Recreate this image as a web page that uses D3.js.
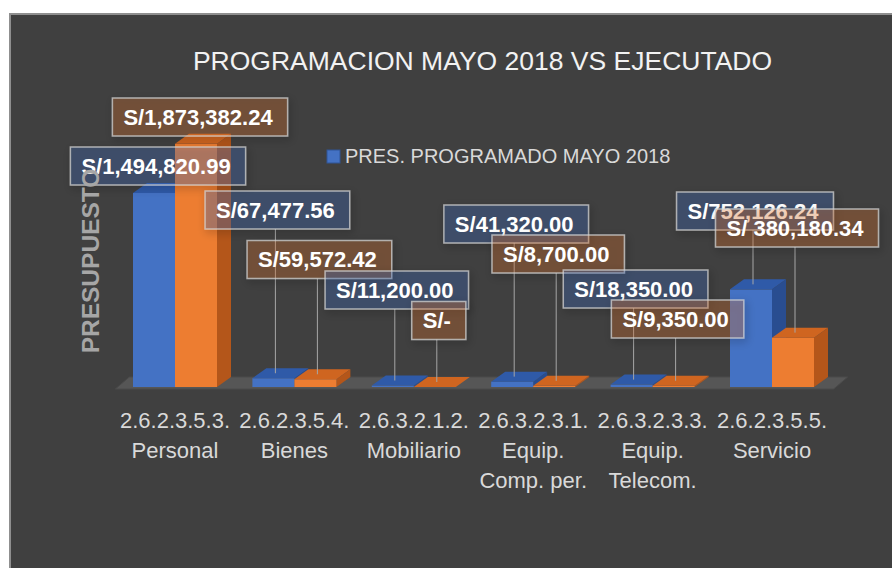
<!DOCTYPE html>
<html>
<head>
<meta charset="utf-8">
<script src="https://cdn.jsdelivr.net/npm/d3@7"></script>
<style>
    body { margin: 0; background: #ffffff; }
    svg { display: block; font-family: 'Liberation Sans', Arial, sans-serif; }
</style>
</head>
<body>
<svg id="chart" width="892" height="568"></svg>
<script>
// chart data
const categories = ['2.6.2.3.5.3. Personal', '2.6.2.3.5.4. Bienes', '2.6.3.2.1.2. Mobiliario',
    '2.6.3.2.3.1. Equip. Comp. per.', '2.6.3.2.3.3. Equip. Telecom.', '2.6.2.3.5.5. Servicio'];
const tickLabels = [
    ['2.6.2.3.5.3.', 'Personal'],
    ['2.6.2.3.5.4.', 'Bienes'],
    ['2.6.3.2.1.2.', 'Mobiliario'],
    ['2.6.3.2.3.1.', 'Equip.', 'Comp. per.'],
    ['2.6.3.2.3.3.', 'Equip.', 'Telecom.'],
    ['2.6.2.3.5.5.', 'Servicio']
];
const programado = [1494820.99, 67477.56, 11200.00, 41320.00, 18350.00, 752126.24];
const ejecutado = [1873382.24, 59572.42, 0, 8700.00, 9350.00, 380180.34];
const programadoLabels = ['S/1,494,820.99', 'S/67,477.56', 'S/11,200.00', 'S/41,320.00', 'S/18,350.00', 'S/752,126.24'];
const ejecutadoLabels = ['S/1,873,382.24', 'S/59,572.42', 'S/-', 'S/8,700.00', 'S/9,350.00', 'S/ 380,180.34'];
const seriesNames = ['PRES. PROGRAMADO MAYO 2018', 'EJECUTADO'];

// label box vertical placement (centre y of each box)
const programadoLabelY = [166, 210, 290, 224, 289, 211];
const ejecutadoLabelY = [117, 259.5, 320.5, 254, 319, 228];

const W = 892, H = 568;
const base = 387;          // front bottom edge of the bars
const depthX = 14, depthY = 10;
const barW = 42;

const series = [
    {name: seriesNames[0], values: programado, labels: programadoLabels, labelY: programadoLabelY,
        front: '#4472c4', top: '#2f5aa8', side: '#294d90', box: 'rgba(68,114,196,0.28)', offset: -barW},
    {name: seriesNames[1], values: ejecutado, labels: ejecutadoLabels, labelY: ejecutadoLabelY,
        front: '#ed7d31', top: '#cf6520', side: '#b4561a', box: 'rgba(237,125,49,0.26)', offset: 0}
];

let svg = d3.select('#chart');

let defs = svg.append('defs');
defs.append('filter')
    .attr('id', 'shadow')
    .attr('x', '-20%').attr('y', '-30%')
    .attr('width', '140%').attr('height', '170%')
    .append('feDropShadow')
        .attr('dx', 2).attr('dy', 3)
        .attr('stdDeviation', 4)
        .attr('flood-color', '#000')
        .attr('flood-opacity', 0.45);

svg.append('rect')
    .attr('x', 10).attr('y', 14)
    .attr('width', W).attr('height', H)
    .style('fill', '#404040')
    .style('stroke', '#8f8f8f')
    .style('stroke-width', 2);

let x = d3.scaleBand()
    .domain(categories)
    .range([115.3, 831.7]);

let y = d3.scaleLinear()
    .domain([0, 2000000])
    .range([base, base - 259.6]);

// floor
let fl = x.range()[0], fr = x.range()[1];
svg.append('path')
    .attr('d', `M${fl},${base + 2}L${fr + 2},${base + 2}L${fr + 2 + depthX},${base + 2 - depthY - 2}L${fl + depthX},${base + 2 - depthY - 2}Z`)
    .style('fill', '#565656')
    .style('stroke', '#4a4a4a');

// bars
let bars = [];
categories.forEach((c, i) => {
    series.forEach(s => {
        let cx = x(c) + x.bandwidth() / 2;
        bars.push({cat: c, i: i, s: s, x: cx + s.offset, top: y(s.values[i])});
    });
});

let barG = svg.append('g')
    .selectAll('g')
    .data(bars)
    .enter()
    .append('g');

barG.append('path')
    .attr('d', d => `M${d.x + barW},${d.top}L${d.x + barW + depthX},${d.top - depthY}L${d.x + barW + depthX},${base - depthY}L${d.x + barW},${base}Z`)
    .style('fill', d => d.s.side);

barG.append('rect')
    .attr('x', d => d.x)
    .attr('y', d => d.top)
    .attr('width', barW)
    .attr('height', d => base - d.top)
    .style('fill', d => d.s.front);

barG.append('path')
    .attr('d', d => `M${d.x},${d.top}L${d.x + barW},${d.top}L${d.x + barW + depthX},${d.top - depthY}L${d.x + depthX},${d.top - depthY}Z`)
    .style('fill', d => d.s.top);

// leader lines
let boxH = 38;
svg.append('g')
    .selectAll('line')
    .data(bars.filter(d => (d.top - depthY / 2) - (d.s.labelY[d.i] + boxH / 2) > 15))
    .enter()
    .append('line')
        .attr('x1', d => d.x + barW / 2 + 2)
        .attr('x2', d => d.x + barW / 2 + 2)
        .attr('y1', d => d.s.labelY[d.i] + boxH / 2)
        .attr('y2', d => d.top - depthY / 2)
        .style('stroke', '#a6a6a6')
        .style('stroke-width', 1);

// data labels
let labels = svg.append('g')
    .selectAll('g')
    .data(bars)
    .enter()
    .append('g')
        .attr('transform', d => `translate(${d.x + barW / 2 + 2}, ${d.s.labelY[d.i]})`);

labels.append('rect')
    .attr('class', 'box')
    .style('filter', 'url(#shadow)');

labels.append('text')
    .attr('text-anchor', 'middle')
    .attr('dy', '0.36em')
    .style('font-size', '22px')
    .style('font-weight', 'bold')
    .style('fill', '#ffffff')
    .text(d => d.s.labels[d.i]);

labels.each((d, i, nodes) => {
    let g = d3.select(nodes[i]);
    let w = g.select('text').node().getComputedTextLength() + 26;
    g.select('rect')
        .attr('x', -w / 2 + 2)
        .attr('y', -boxH / 2)
        .attr('width', w)
        .attr('height', boxH)
        .style('fill', d.s.box)
        .style('stroke', 'rgba(210,210,210,0.75)')
        .style('stroke-width', 1.5);
});

// category axis
let axis = svg.append('g')
    .attr('transform', `translate(0, ${base})`)
    .call(d3.axisBottom(x).tickSize(0).tickFormat(''));

axis.select('.domain').remove();

axis.selectAll('.tick text')
    .style('font-family', "'Liberation Sans', Arial, sans-serif")
    .style('font-size', '22px')
    .style('fill', '#d9d9d9')
    .attr('y', 0)
    .attr('dy', null)
    .selectAll('tspan')
    .data((d, i) => tickLabels[i])
    .enter()
    .append('tspan')
        .attr('x', 0)
        .attr('y', (d, i) => 41 + i * 30)
        .text(d => d);

// title
svg.append('text')
    .attr('x', 482.5)
    .attr('y', 70)
    .attr('text-anchor', 'middle')
    .style('font-size', '26.5px')
    .style('fill', '#f2f2f2')
    .text('PROGRAMACION MAYO 2018 VS EJECUTADO');

// legend (first series only, as in the original)
let legend = svg.append('g')
    .attr('transform', 'translate(327, 150)');

legend.append('rect')
    .attr('width', 13)
    .attr('height', 13)
    .style('fill', series[0].front)
    .style('stroke', '#2f5597');

legend.append('text')
    .attr('x', 18)
    .attr('y', 13)
    .style('font-size', '20px')
    .style('fill', '#d9d9d9')
    .text(series[0].name);

// y axis title
svg.append('text')
    .attr('transform', 'translate(99, 261) rotate(-90)')
    .attr('text-anchor', 'middle')
    .style('font-size', '24.5px')
    .style('font-weight', 'bold')
    .style('fill', '#a6a6a6')
    .text('PRESUPUESTO');
</script>
</body>
</html>
